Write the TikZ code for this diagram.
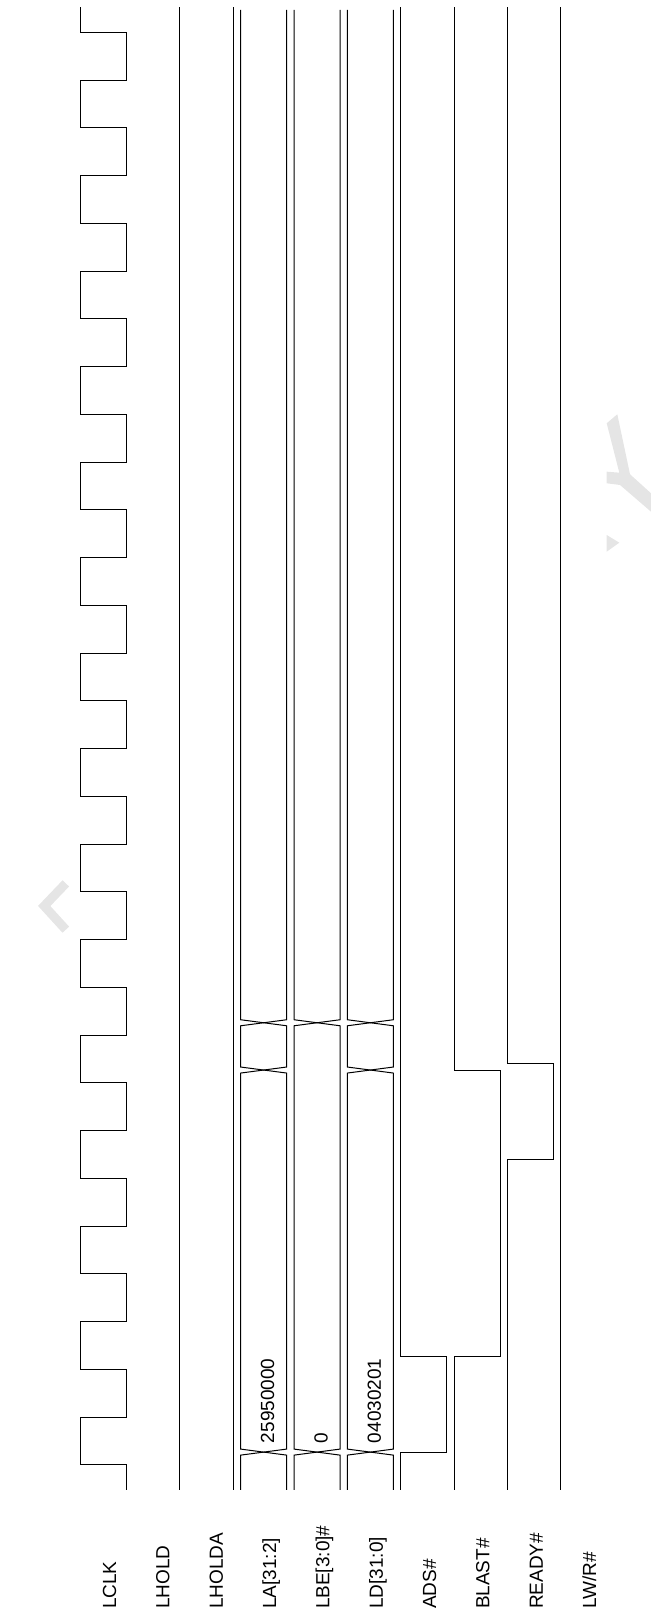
\documentclass[tikz,border=0pt]{standalone}
\usepackage{fontspec}
\setmainfont{Liberation Sans}
\begin{document}
\begin{tikzpicture}[x=0.5pt,y=23.8785pt]
    \tikzstyle{wave}=[draw=black, line width=0.5pt]
    \tikzstyle{signame}=[rotate=90, anchor=base west, inner sep=0pt, font=\fontsize{9.5}{11}\selectfont]
    \tikzstyle{busval}=[signame]
    \tikzstyle{ghost}=[fill=black!10, draw=none]
    \useasboundingbox (0,-3.099) rectangle (651,30.676);
    % signal names
    \foreach \lbl [count=\i from 0] in {LCLK, LHOLD, LHOLDA, {LA[31:2]}, {LBE[3:0]\#}, {LD[31:0]}, ADS\#, BLAST\#, READY\#, {LW/R\#}}
        \node[signame] (sig\i) at ({116.1+53.34*\i}, -3.022) {\lbl};
    % LCLK
    \draw[wave] (126.6,-0.523) \foreach \k in {0,2,...,28} { -- (126.6,\k) -- (80.7,\k) -- (80.7,\k+1) -- (126.6,\k+1) } -- (126.6,30) -- (80.7,30) -- (80.7,30.52);
    % LHOLD, LHOLDA, LW/R#
    \draw[wave] (179.9,-0.523) -- (179.9,30.52);
    \draw[wave] (233.3,-0.523) -- (233.3,30.52);
    \draw[wave] (560.8,-0.523) -- (560.8,30.52);
    % LA[31:2]
    \draw[wave] (240.7,-0.523) -- (240.7,0.207) -- (286.6,0.333) -- (286.6,8.207) -- (240.7,8.333) -- (240.7,9.197) -- (286.6,9.323) -- (286.6,30.467);
    \draw[wave] (286.6,-0.523) -- (286.6,0.207) -- (240.7,0.333) -- (240.7,8.207) -- (286.6,8.333) -- (286.6,9.197) -- (240.7,9.323) -- (240.7,30.467);
    \node[busval] (laval) at (274.1,0.45) {25950000};
    % LBE[3:0]#
    \draw[wave] (294.1,-0.523) -- (294.1,0.207) -- (340.0,0.333) -- (340.0,9.197) -- (294.1,9.323) -- (294.1,30.467);
    \draw[wave] (340.0,-0.523) -- (340.0,0.207) -- (294.1,0.333) -- (294.1,9.197) -- (340.0,9.323) -- (340.0,30.467);
    \node[busval] (lbeval) at (327.5,0.45) {0};
    % LD[31:0]
    \draw[wave] (347.4,-0.523) -- (347.4,0.207) -- (393.3,0.333) -- (393.3,8.207) -- (347.4,8.333) -- (347.4,9.197) -- (393.3,9.323) -- (393.3,30.467);
    \draw[wave] (393.3,-0.523) -- (393.3,0.207) -- (347.4,0.333) -- (347.4,8.207) -- (393.3,8.333) -- (393.3,9.197) -- (347.4,9.323) -- (347.4,30.467);
    \node[busval] (ldval) at (380.8,0.45) {04030201};
    % ADS#, BLAST#, READY#
    \draw[wave] (400.7,-0.523) -- (400.7,0.27) -- (446.6,0.27) -- (446.6,2.27) -- (400.7,2.27) -- (400.7,30.52);
    \draw[wave] (454.1,-0.523) -- (454.1,2.27) -- (500.0,2.27) -- (500.0,8.26) -- (454.1,8.26) -- (454.1,30.52);
    \draw[wave] (507.4,-0.523) -- (507.4,6.40) -- (553.3,6.40) -- (553.3,8.41) -- (507.4,8.41) -- (507.4,30.52);
    % faint marks
    \begin{scope}[x=0.5pt,y=-0.5pt,yshift=732.5pt]
        \fill[ghost] (606.7,423.3) -- (617.3,414.3) -- (630,474.3) -- (651,493.3) -- (651,511.7) -- (620,485) -- (606.7,483.3) -- (606.7,471.7) -- (619.3,472.7) -- cycle;
        \fill[ghost] (606.7,535) -- (619.3,542.7) -- (606.7,551.7) -- cycle;
        \draw[black!10, line width=4.5pt] (65.8,883.4) -- (44.2,906) -- (65.8,929.7);
    \end{scope}
\end{tikzpicture}
\end{document}
